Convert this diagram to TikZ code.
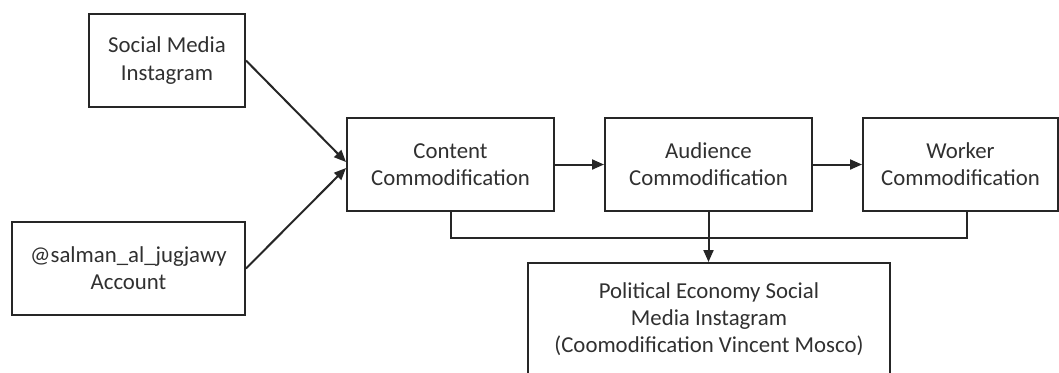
\documentclass[tikz,border=0pt]{standalone}
\usepackage{fontspec}
\setmainfont{Carlito}
\usetikzlibrary{arrows.meta,calc}
\definecolor{linec}{HTML}{262626}
\definecolor{textc}{HTML}{303030}
\begin{document}
\begin{tikzpicture}[x=0.5pt,y=-0.5pt,
  box/.style={draw=linec, line width=1pt, text=textc, align=center, inner sep=0pt,
    font=\fontsize{11.4}{13.6}\selectfont},
  conn/.style={draw=linec, line width=1pt},
  arr/.style={conn, -{Triangle[length=6pt,width=5pt]}}]
\useasboundingbox (0,0) rectangle (1059,372);
\clip (0,0) rectangle (1059,372);
\node[box, minimum width=78pt, minimum height=46.5pt] (soc) at (167,60.5) {Social Media\\Instagram};
\node[box, minimum width=116.5pt, minimum height=46.5pt] (acc) at (128.5,268.5) {@salman\_al\_jugjawy\\Account};
\node[box, minimum width=103.5pt, minimum height=46.5pt] (con) at (450.5,164.5) {Content\\Commodification};
\node[box, minimum width=103.5pt, minimum height=46.5pt] (aud) at (708.5,164.5) {Audience\\Commodification};
\node[box, minimum width=97.5pt, minimum height=46.5pt] (wor) at (960.5,164.5) {Worker\\Commodification};
\node[box, minimum width=181pt, minimum height=56pt] (pol) at (709,319) {Political Economy Social\\Media Instagram\\(Coomodification Vincent Mosco)};
\coordinate (ci1) at ($(con.west)+(0,-2.5)$);
\coordinate (ci2) at ($(con.west)+(0,3.5)$);
\draw[arr] (soc.east) -- (ci1);
\draw[arr] (acc.east) -- (ci2);
\draw[arr] (con.east) -- (aud.west);
\draw[arr] (aud.east) -- (wor.west);
\coordinate (wb) at ($(wor.south)+(6.5,0)$);
\draw[conn] (con.south) -- ++(0,26) -| (wb);
\draw[arr] (aud.south) -- (pol.north -| aud.south);
\end{tikzpicture}
\end{document}
